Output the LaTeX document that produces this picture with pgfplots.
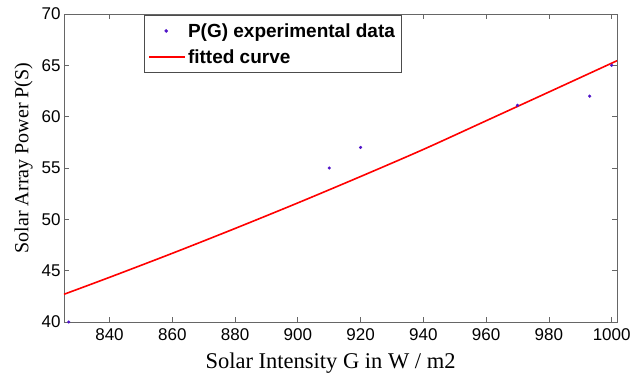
\documentclass[border=0pt]{standalone}
\usepackage{pgfplots}
\pgfplotsset{compat=1.18}
\usepackage{fontspec}
\setmainfont{Liberation Serif}
\newfontfamily\legfont{Liberation Sans}
\newfontfamily\tickfont{Liberation Sans}
\definecolor{dotblue}{RGB}{80,20,200}
\begin{document}
\begin{tikzpicture}
\useasboundingbox (-64bp,-58bp) rectangle (567bp,322bp);
\begin{axis}[
  scale only axis,
  width=553bp, height=308bp,
  xmin=825.5, xmax=1001.7,
  ymin=40, ymax=70,
  xtick={840,860,...,1000},
  ytick={40,45,...,70},
  tick align=inside,
  major tick length=5bp,
  axis line style={draw=black!60, line width=0.8pt},
  tick style={draw=black!60, line width=0.8pt},
  /pgf/number format/assume math mode=true,
  /pgf/number format/set thousands separator={},
  ticklabel style={font=\tickfont\fontsize{17bp}{19bp}\selectfont, text=black},
  xticklabel style={yshift=-3bp},
  xlabel={Solar Intensity G in W / m2},
  ylabel={Solar Array Power P(S)},
  xlabel style={font=\fontsize{22.5bp}{24bp}\selectfont, yshift=-5bp, xshift=-10bp},
  ylabel style={font=\fontsize{20bp}{22bp}\selectfont, yshift=2bp, xshift=10bp},
  legend style={at={(0.1447,0.997)}, anchor=north west, draw=black!70, line width=0.8pt,
    font=\legfont\bfseries\fontsize{19bp}{21bp}\selectfont, inner xsep=4bp, inner ysep=6bp, row sep=7bp,
    cells={anchor=west}},
  legend cell align=left,
]
\addplot[only marks, mark=*, mark size=1.4bp, color=dotblue,
  legend image code/.code={\draw[dotblue,fill=dotblue] (17bp,0) circle (1.4bp);}] coordinates {
(827,40) (910,55) (920,57) (970,61.1) (993,62) (1000,65)
};
\addlegendentry{P(G) experimental data}
\addplot[color=red, line width=1.6bp, smooth, no marks,
  legend image code/.code={\draw[red, line width=1.6bp] (0bp,0) -- (36bp,0);}] coordinates {
(825.5,42.7) (840,44.35) (860,46.69) (880,49.11) (900,51.6) (920,54.17) (940,56.81) (960,59.6) (980,62.4) (1001.7,65.45)
};
\addlegendentry{fitted curve}
\end{axis}
\end{tikzpicture}
\end{document}
